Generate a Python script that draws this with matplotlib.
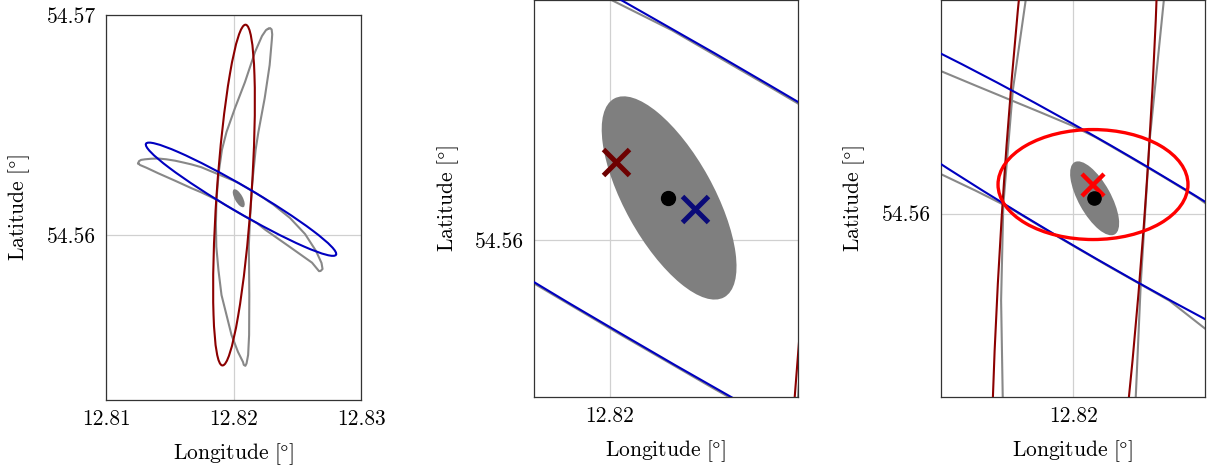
import numpy as np
import matplotlib
matplotlib.use('Agg')
import matplotlib.pyplot as plt
from matplotlib.patches import Ellipse
from matplotlib.transforms import Affine2D
from matplotlib.ticker import FormatStrFormatter

plt.rcParams['font.family'] = 'serif'
plt.rcParams['font.serif'] = ['cmr10']
plt.rcParams['mathtext.fontset'] = 'cm'
plt.rcParams['axes.formatter.use_mathtext'] = True
plt.rcParams['font.size'] = 15.5

# reference point, everything else is east / north offset in metres
lon0, lat0 = 12.82, 54.56
my = 111320.0
mx = my*np.cos(np.radians(lat0))

# linearised ellipses: centre [m], semi axes [m], orientation [deg]
red_c, red_ab, red_ang = (2.5, 202.0), (864.0, 88.0), 86.1
blue_c, blue_ab, blue_ang = (38.0, 181.0), (557.0, 65.0), -30.3
est_c, est_ab, est_ang = (26.5, 186.0), (51.0, 20.0), -61.0
fus_c, fus_ab, fus_ang = (24.5, 203.0), (117.3, 67.9), 0.0
truth = (26.0, 186.0)

# exact (curved) contours
gv_e = [175, 185, 193, 196, 194, 183, 158, 126, 112, 94.5, 83.5, 77.3,
        78.5, 80, 79, 74, 66, 60, 52, 48.1, 22.8, -10.1, -60.8, -76, -87,
        -89, -86.3, -74.5, -58.6, -35.4, 7.6, 58.2, 108.9, 144.3, 164.6, 175]
gv_n = [1043, 1047, 1040, 1015, 987, 860, 693, 521, 430.9, 258.3, 81.4, -59,
        -137, -304, -506, -607, -650, -662, -657, -642.6, -592, -506, -303.6,
        -180, -59, 60, 177.7, 319.7, 430.9, 521.2, 642.6, 774.2, 926, 1007,
        1037, 1043]

gh_e = [-482, -479, -468, -448, -415, -381, -340, -296, -255, -212, -163.6,
        -120, -80, -40, -0.2, 27.8, 69.8, 111.6, 152.8, 180, 201.5, 218.8,
        286.1, 362.1, 417.8, 445.6, 450.7, 441, 433, 397.5, 336.8, 276, 210.2,
        162.6, 119, 88.2, 46.2, 4.2, -37.6, -78.8, -120, -163.6, -211.7,
        -296.2, -380.8, -440, -473.5, -482]
gh_n = [362, 373, 380, 383, 386, 387, 383, 376, 367, 357, 343.2, 325, 308.5,
        292, 275.3, 261.3, 237.0, 212.4, 187.3, 168, 154, 140, 86, 5.1, -81,
        -141.7, -172, -182, -183, -140, -97, -54, -8, 25.3, 59.5, 76.9, 100.6,
        124.9, 149.6, 174.5, 195.2, 216, 236.3, 274.8, 312.2, 340, 354.2, 362]

xlims = [(12.81, 12.83), (12.8194702, 12.8213076), (12.8174654, 12.8225222)]
ylims = [(54.5525, 54.57), (54.5608678, 54.5624695), (54.5594700, 54.5638708)]
xticks = [[12.81, 12.82, 12.83], [12.82], [12.82]]
yticks = [[54.56, 54.57], [54.5615], [54.5615]]

c_red, c_blue, c_gray = '#8b0000', '#0000c0', '#888888'

fig = plt.figure(figsize=(12.09, 4.70), dpi=100)
boxes = [[0.08768, 0.14894, 0.21092, 0.81915],
         [0.44169, 0.15532, 0.21836, 0.84468],
         [0.77808, 0.15596, 0.21861, 0.84404]]

for k in range(3):
    ax = fig.add_axes(boxes[k])
    T = Affine2D().scale(1/mx, 1/my).translate(lon0, lat0) + ax.transData

    ax.plot(gv_e, gv_n, color=c_gray, lw=1.5, transform=T, zorder=2)
    ax.plot(gh_e, gh_n, color=c_gray, lw=1.5, transform=T, zorder=2)
    ax.add_patch(Ellipse(red_c, 2*red_ab[0], 2*red_ab[1], angle=red_ang,
                         fill=False, ec=c_red, lw=1.5, transform=T, zorder=3))
    ax.add_patch(Ellipse(blue_c, 2*blue_ab[0], 2*blue_ab[1], angle=blue_ang,
                         fill=False, ec=c_blue, lw=1.5, transform=T, zorder=3))
    ax.add_patch(Ellipse(est_c, 2*est_ab[0], 2*est_ab[1], angle=est_ang,
                         fc='#7f7f7f', ec='none', transform=T, zorder=2))

    if k == 1:
        ax.plot(*red_c, marker='x', ms=19, mew=3.6, color='#6e0000', transform=T, zorder=5)
        ax.plot(*blue_c, marker='x', ms=19, mew=3.6, color='#0a0a78', transform=T, zorder=5)
        ax.plot(*truth, marker='o', ms=10, color='k', transform=T, zorder=6)
    if k == 2:
        ax.add_patch(Ellipse(fus_c, 2*fus_ab[0], 2*fus_ab[1], angle=fus_ang,
                             fill=False, ec='#ff0000', lw=2.4, transform=T, zorder=4))
        ax.plot(*fus_c, marker='x', ms=16.5, mew=3.2, color='#ff0000', transform=T, zorder=5)
        ax.plot(*truth, marker='o', ms=9.5, color='k', transform=T, zorder=6)

    ax.set_xlim(xlims[k])
    ax.set_ylim(ylims[k])
    ax.set_xticks(xticks[k])
    ax.set_yticks(yticks[k])
    ax.xaxis.set_major_formatter(FormatStrFormatter('%.2f'))
    ax.yaxis.set_major_formatter(FormatStrFormatter('%.2f'))
    ax.tick_params(length=0, pad=7)
    ax.grid(True, color='#d0d0d0', lw=0.9)
    ax.set_axisbelow(True)
    for s in ax.spines.values():
        s.set_color('#333333')
        s.set_linewidth(0.9)
    ax.set_xlabel(r'$\mathrm{Longitude}\ [\degree]$', labelpad=9)
    ax.set_ylabel(r'$\mathrm{Latitude}\ [\degree]$', labelpad=10.5)

fig.savefig('out.png', dpi=100)
